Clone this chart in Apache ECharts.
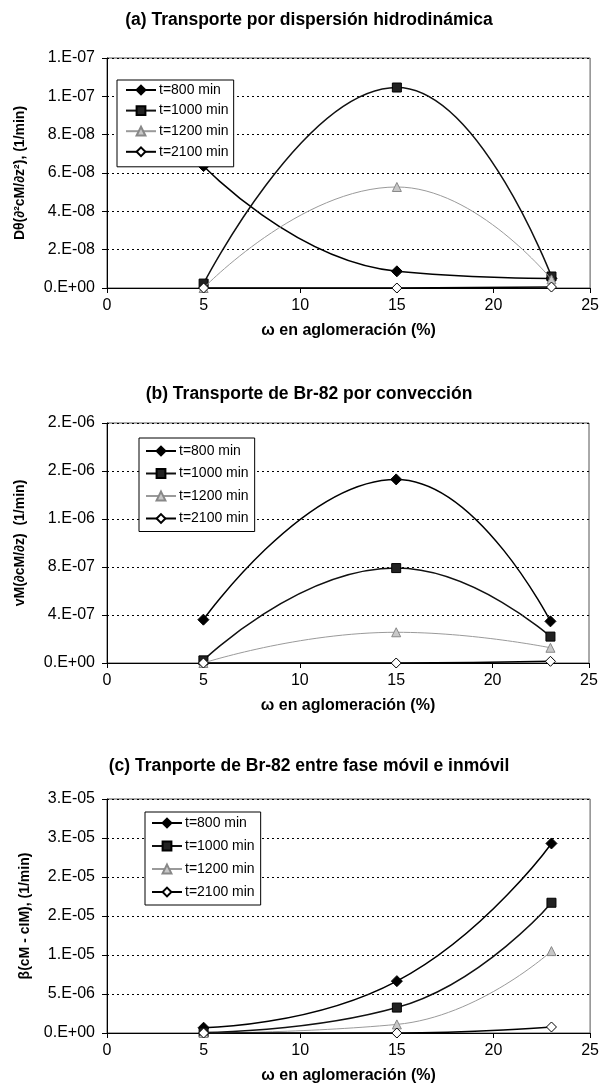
<!DOCTYPE html>
<html>
<head>
<meta charset="utf-8">
<script src="https://cdn.jsdelivr.net/npm/echarts@6/dist/echarts.min.js"></script>
<style>
html,body{margin:0;padding:0;background:#fff;}
#chart{width:602px;height:1088px;}
</style>
</head>
<body>
<div id="chart"></div>
<script>
// ---- data ----
var omega = [5, 15, 23];
var seriesNames = ['t=800 min', 't=1000 min', 't=1200 min', 't=2100 min'];

var titles = [
  '(a) Transporte por dispersión hidrodinámica',
  '(b) Transporte de Br-82 por convección',
  '(c) Tranporte de Br-82 entre fase móvil e inmóvil'
];
var yNames = [
  'Dθ(∂²cM/∂z²), (1/min)',
  'vM(∂cM/∂z)  (1/min)',
  'β(cM - cIM), (1/min)'
];
var xName = 'ω en aglomeración (%)';

// panel (a)
var a800  = [6.36e-8, 8.7e-9, 5.0e-9];
var a1000 = [2.3e-9, 1.046e-7, 6.0e-9];
var a1200 = [0, 5.27e-8, 4.5e-9];
var a2100 = [0, 0, 5e-10];
// panel (b)
var b800  = [3.61e-7, 1.53e-6, 3.47e-7];
var b1000 = [2.2e-8, 7.91e-7, 2.2e-7];
var b1200 = [0, 2.56e-7, 1.27e-7];
var b2100 = [0, 0, 1.4e-8];
// panel (c)
var c800  = [6.8e-7, 6.65e-6, 2.43e-5];
var c1000 = [8e-8, 3.26e-6, 1.67e-5];
var c1200 = [0, 1.1e-6, 1.05e-5];
var c2100 = [0, 0, 7.7e-7];

// tick labels
var xTicks  = ['0', '5', '10', '15', '20', '25'];
var yTicksA = ['0.E+00', '2.E-08', '4.E-08', '6.E-08', '8.E-08', '1.E-07', '1.E-07'];
var yTicksB = ['0.E+00', '4.E-07', '8.E-07', '1.E-06', '2.E-06', '2.E-06'];
var yTicksC = ['0.E+00', '5.E-06', '1.E-05', '2.E-05', '2.E-05', '3.E-05', '3.E-05'];

// axis scales
var xMax = 25, xInterval = 5;
var yMaxA = 1.2e-7, yIntA = 2e-8;
var yMaxB = 2e-6,   yIntB = 4e-7;
var yMaxC = 3e-5,   yIntC = 5e-6;

// ---- layout / styles ----
var FONT = 'Liberation Sans, Arial, sans-serif';
var grids = [
  {left: 107, top: 58,  width: 485, height: 230},
  {left: 107, top: 423, width: 482, height: 240},
  {left: 107, top: 799, width: 485, height: 234}
];
var titleTops = [11, 385, 757];
var legendPos = [
  {left: 117, top: 80,  padding: [3, 5, 8, 8], itemGap: 6.6},
  {left: 139, top: 438, padding: [6, 6, 6, 6], itemGap: 8.5},
  {left: 145, top: 812, padding: [4, 6, 6, 6], itemGap: 9}
];
var yNameGaps = [80, 80, 75];

var styles = [
  {color: '#000', symbol: 'diamond', size: 11, fill: '#000', border: '#000', width: 1.5},
  {color: '#111', symbol: 'rect', size: 9, fill: '#222', border: '#000', width: 1.5},
  {color: '#9a9a9a', symbol: 'triangle', size: 9, fill: '#c8c8c8', border: '#888', width: 1},
  {color: '#000', symbol: 'diamond', size: 10, fill: '#fff', border: '#000', width: 1.5}
];

var panelData = [
  [a800, a1000, a1200, a2100],
  [b800, b1000, b1200, b2100],
  [c800, c1000, c1200, c2100]
];
var yMaxes = [yMaxA, yMaxB, yMaxC];
var yInts = [yIntA, yIntB, yIntC];
var yTickLabels = [yTicksA, yTicksB, yTicksC];

function pairs(xs, ys) {
  return xs.map(function (x, i) { return [x, ys[i]]; });
}

var option = {
  backgroundColor: '#fff',
  animation: false,
  title: [], grid: [], xAxis: [], yAxis: [], legend: [], series: []
};

for (var p = 0; p < 3; p++) {
  option.title.push({
    text: titles[p], left: 309, top: titleTops[p], textAlign: 'center', padding: 0,
    textStyle: {fontFamily: FONT, fontSize: 17.5, fontWeight: 'bold', color: '#000'}
  });
  option.grid.push({
    left: grids[p].left, top: grids[p].top, width: grids[p].width, height: grids[p].height,
    show: true, borderColor: '#555', borderWidth: 1, backgroundColor: 'transparent'
  });
  option.xAxis.push({
    type: 'value', gridIndex: p, min: 0, max: xMax, interval: xInterval,
    name: xName, nameLocation: 'middle', nameGap: 35,
    nameTextStyle: {fontFamily: FONT, fontSize: 16, fontWeight: 'bold', color: '#000'},
    axisLine: {show: true, onZero: false, lineStyle: {color: '#000', width: 1}},
    axisTick: {show: true, inside: false, length: 5, lineStyle: {color: '#000'}},
    axisLabel: {
      margin: 10, fontFamily: FONT, fontSize: 16, color: '#000',
      formatter: function (v) { return xTicks[Math.round(v / xInterval)]; }
    },
    splitLine: {show: false}
  });
  (function (pp) {
    option.yAxis.push({
      type: 'value', gridIndex: pp, min: 0, max: yMaxes[pp], interval: yInts[pp],
      name: yNames[pp], nameLocation: 'middle', nameGap: yNameGaps[pp], nameRotate: 90,
      nameTextStyle: {fontFamily: FONT, fontSize: 14, fontWeight: 'bold', color: '#000'},
      axisLine: {show: true, onZero: false, lineStyle: {color: '#000', width: 1}},
      axisTick: {show: true, inside: false, length: 5, lineStyle: {color: '#000'}},
      axisLabel: {
        margin: 12, fontFamily: FONT, fontSize: 16, color: '#000',
        formatter: function (v) { return yTickLabels[pp][Math.round(v / yInts[pp])]; }
      },
      splitLine: {show: true, lineStyle: {color: '#000', type: [2, 3], width: 1}}
    });
  })(p);
  option.legend.push({
    orient: 'vertical', left: legendPos[p].left, top: legendPos[p].top,
    padding: legendPos[p].padding, itemGap: legendPos[p].itemGap,
    itemWidth: 30, itemHeight: 11,
    borderColor: '#000', borderWidth: 1, backgroundColor: '#fff',
    data: seriesNames,
    selectedMode: false,
    textStyle: {fontFamily: FONT, fontSize: 14, color: '#000', padding: [0, 0, 0, -2]}
  });
  for (var s = 0; s < 4; s++) {
    var st = styles[s];
    option.series.push({
      name: seriesNames[s], type: 'line', xAxisIndex: p, yAxisIndex: p,
      data: pairs(omega, panelData[p][s]),
      smooth: 0.5,
      symbol: st.symbol, symbolSize: st.size, showSymbol: true,
      lineStyle: {color: st.color, width: st.width},
      itemStyle: {color: st.fill, borderColor: st.border, borderWidth: 1},
      z: 2 + s
    });
  }
}

var chart = echarts.init(document.getElementById('chart'), null, {renderer: 'canvas'});
chart.setOption(option);
</script>
</body>
</html>
